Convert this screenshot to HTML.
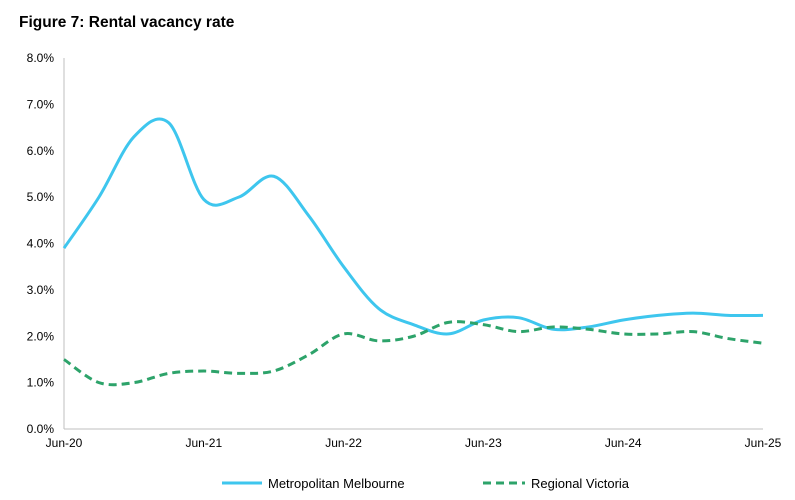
<!DOCTYPE html>
<html><head><meta charset="utf-8"><style>
body{margin:0;background:#fff;font-family:"Liberation Sans",Arial,sans-serif;}
#wrap{position:relative;width:795px;height:500px;overflow:hidden;}
</style></head><body>
<div id="wrap">
<svg id="chart" width="795" height="500">
<text x="19" y="27" font-size="15.5" font-weight="bold" fill="#000">Figure 7: Rental vacancy rate</text>
</svg>
</div>
<script>
const categories=["Jun-20","Sep-20","Dec-20","Mar-21","Jun-21","Sep-21","Dec-21","Mar-22","Jun-22","Sep-22","Dec-22","Mar-23","Jun-23","Sep-23","Dec-23","Mar-24","Jun-24","Sep-24","Dec-24","Mar-25","Jun-25"];
const metroValues=[3.9,5.0,6.3,6.6,4.95,5.0,5.45,4.6,3.5,2.6,2.25,2.05,2.35,2.4,2.15,2.2,2.35,2.45,2.5,2.45,2.45];
const regionalValues=[1.5,1.0,1.0,1.2,1.25,1.2,1.25,1.6,2.05,1.9,2.0,2.3,2.25,2.1,2.2,2.15,2.05,2.05,2.1,1.95,1.85];
const yTicks=[0,1,2,3,4,5,6,7,8];
const xTickLabels=["Jun-20","Jun-21","Jun-22","Jun-23","Jun-24","Jun-25"];
const svg=document.getElementById('chart');const NS="http://www.w3.org/2000/svg";
const X0=64,X1=763,Y0=429,Y1=58;
const xs=i=>X0+(X1-X0)*i/(categories.length-1);
const ys=v=>Y0-(Y0-Y1)*v/8;
function mk(t,a){const e=document.createElementNS(NS,t);for(const k in a)e.setAttribute(k,a[k]);svg.appendChild(e);return e;}
let ax=mk('line',{x1:X0,y1:Y1,x2:X0,y2:Y0,stroke:'#bfbfbf','stroke-width':1});


let bx=mk('line',{x1:X0,y1:Y0,x2:X1,y2:Y0,stroke:'#bfbfbf','stroke-width':1});


yTicks.forEach(v=>{const t=mk('text',{x:54,y:ys(v)+4,'text-anchor':'end','font-size':12,fill:'#000'});t.textContent=v.toFixed(1)+'%';

});
xTickLabels.forEach(l=>{const i=categories.indexOf(l);const t=mk('text',{x:xs(i),y:447,'text-anchor':'middle','font-size':12,fill:'#000'});t.textContent=l;

});
function path(vals){const p=vals.map((v,i)=>[xs(i),ys(v)]);let d=`M${p[0][0]},${p[0][1]}`;
for(let i=0;i<p.length-1;i++){const a=p[i-1]||p[i],b=p[i],c=p[i+1],e=p[i+2]||c;
d+=` C${b[0]+(c[0]-a[0])/6},${b[1]+(c[1]-a[1])/6} ${c[0]-(e[0]-b[0])/6},${c[1]-(e[1]-b[1])/6} ${c[0]},${c[1]}`;}return d;}
let m=mk('path',{d:path(metroValues),fill:'none',stroke:'#3EC6EE','stroke-width':3});


let r=mk('path',{d:path(regionalValues),fill:'none',stroke:'#2DA36A','stroke-width':3,'stroke-dasharray':'8,5'});


let l1=mk('line',{x1:222,y1:483,x2:262,y2:483,stroke:'#3EC6EE','stroke-width':3});


let t1=mk('text',{x:268,y:488,'font-size':13,fill:'#000'});t1.textContent='Metropolitan Melbourne';


let l2=mk('line',{x1:483,y1:483,x2:525,y2:483,stroke:'#2DA36A','stroke-width':3,'stroke-dasharray':'8,5'});


let t2=mk('text',{x:531,y:488,'font-size':13,fill:'#000'});t2.textContent='Regional Victoria';


</script>
</body></html>
